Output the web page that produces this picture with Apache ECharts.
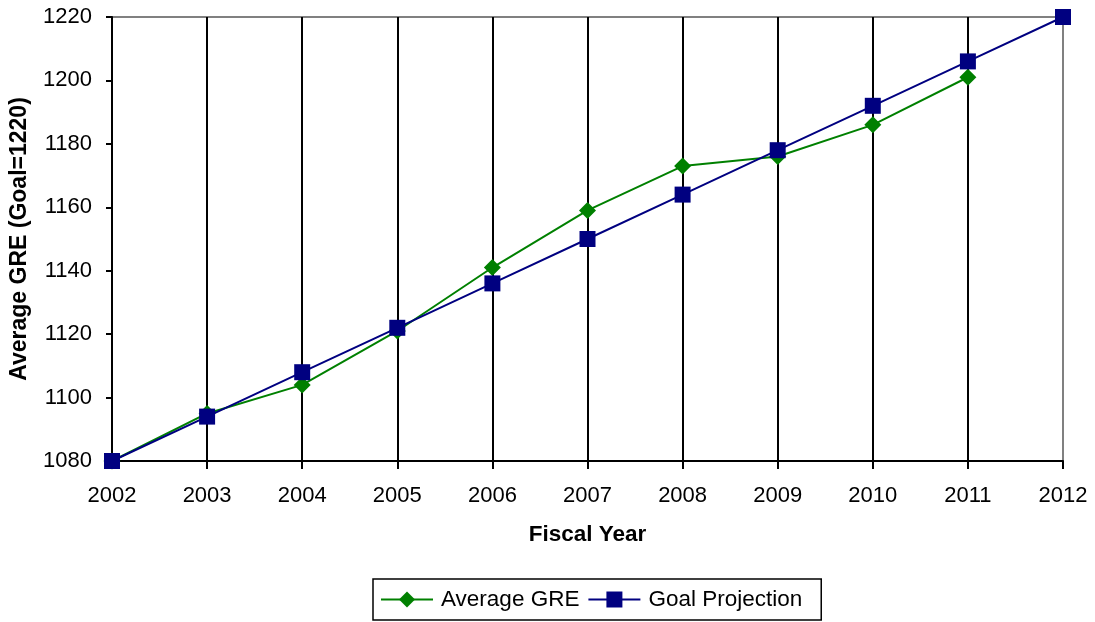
<!DOCTYPE html>
<html>
<head>
<meta charset="utf-8">
<script src="https://cdn.jsdelivr.net/npm/echarts@6/dist/echarts.min.js"></script>
<style>html,body{margin:0;padding:0;background:#fff}#c{width:1095px;height:622px}</style>
</head>
<body>
<div id="c"></div>
<script>
const years = ['2002','2003','2004','2005','2006','2007','2008','2009','2010','2011','2012'];
const averageGRE = [1080,1095,1104,1121,1141,1159,1173,1176,1186,1201,null];
const goalProjection = [1080,1094,1108,1122,1136,1150,1164,1178,1192,1206,1220];
const yMin = 1080, yMax = 1220, yStep = 20;

const font = '"Liberation Sans", Arial, sans-serif';
const chart = echarts.init(document.getElementById('c'), null, {renderer:'canvas'});
const splitColors = years.map((y,i)=> i===years.length-1 ? '#808080' : '#000000');
chart.setOption({
  animation:false,
  textStyle:{fontFamily:font},
  grid:{left:112, right:32, top:17, bottom:161, outerBoundsMode:'none', containLabel:false,
        show:true, borderColor:'#808080', borderWidth:2, backgroundColor:'transparent'},
  xAxis:{
    type:'category', data:years, boundaryGap:false,
    name:'Fiscal Year', nameLocation:'middle', nameGap:62,
    nameTextStyle:{fontFamily:font, fontSize:22.5, fontWeight:'bold', color:'#000'},
    axisLine:{lineStyle:{color:'#000', width:2}},
    axisTick:{show:true, length:8, lineStyle:{color:'#000', width:2}},
    axisLabel:{fontFamily:font, fontSize:22, color:'#000', margin:24},
    splitLine:{show:true, lineStyle:{color:splitColors, width:2}}
  },
  yAxis:{
    type:'value', min:yMin, max:yMax, interval:yStep,
    name:'Average GRE (Goal=1220)', nameLocation:'middle', nameGap:81,
    nameTextStyle:{fontFamily:font, fontSize:23, fontWeight:'bold', color:'#000'},
    axisLine:{show:true, lineStyle:{color:'#000', width:2}},
    axisTick:{show:true, length:6, lineStyle:{color:'#000', width:2}},
    axisLabel:{fontFamily:font, fontSize:22, color:'#000', margin:20, formatter:v=>String(v)},
    splitLine:{show:false}
  },
  legend:{
    left:373, top:579, padding:[9,19,9,7],
    borderColor:'#000', borderWidth:1.5, itemWidth:52, itemHeight:20, itemGap:8,
    textStyle:{fontFamily:font, fontSize:22.5, color:'#000', padding:[0,0,0,3]},
    data:['Average GRE','Goal Projection']
  },
  series:[
    {name:'Average GRE', type:'line', data:averageGRE, symbol:'diamond', symbolSize:17,
     itemStyle:{color:'#008000'}, lineStyle:{color:'#008000', width:2}, z:3},
    {name:'Goal Projection', type:'line', data:goalProjection, symbol:'rect', symbolSize:16,
     itemStyle:{color:'#000080'}, lineStyle:{color:'#000080', width:2}, z:4}
  ]
});
</script>
</body>
</html>
